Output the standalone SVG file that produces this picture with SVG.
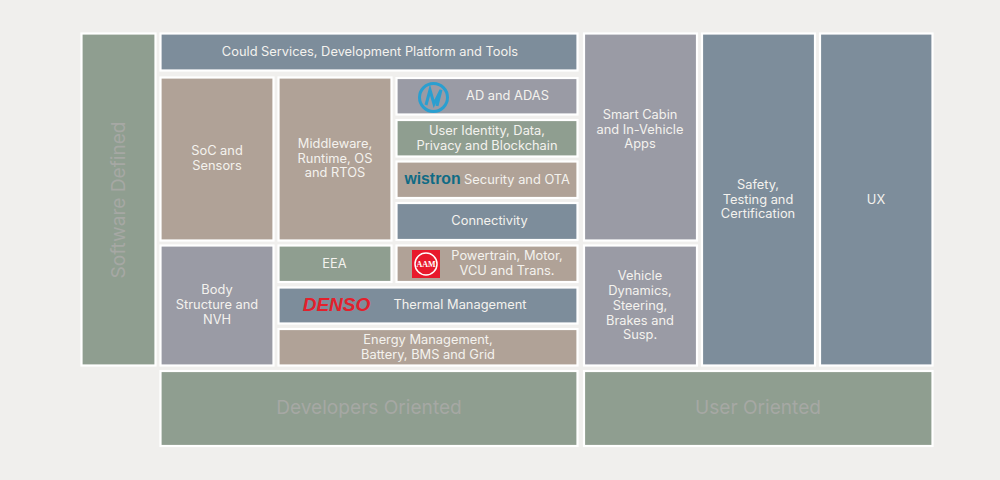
<svg xmlns="http://www.w3.org/2000/svg" width="1000" height="480" viewBox="0 0 1000 480">
<style>
.b{stroke:#fff;stroke-width:2.200}
.g{fill:#8f9e90}.s{fill:#7d8d9b}.t{fill:#b0a297}.p{fill:#9a9ba5}
text{font-family:"Inter","Open Sans","Liberation Sans",sans-serif;font-size:12.850px;fill:#f4f2ee;text-anchor:middle}
.big{font-size:19.100px;fill:#a6a8a4}
</style>
<rect width="1000" height="480" fill="#f0efed"/>
<g id="connectors"/>
<g id="software-defined"><rect class="b g" x="81.500" y="33.500" width="74" height="332"/><text class="big" transform="translate(118.500 200) rotate(-90)" y="6.500">Software Defined</text></g>
<g id="cloud"><rect class="b s" x="160.500" y="33.500" width="417" height="37"/><text x="370" y="56">Could Services, Development Platform and Tools</text></g>
<g id="soc"><rect class="b t" x="160.500" y="77.500" width="113" height="163"/><text x="217" y="155">SoC and</text><text x="217" y="169.500">Sensors</text></g>
<g id="middleware"><rect class="b t" x="278.500" y="77.500" width="113" height="163"/><text x="335" y="148">Middleware,</text><text x="335" y="162.500">Runtime, OS</text><text x="335" y="177">and RTOS</text></g>
<g id="adas"><rect class="b p" x="396.500" y="78" width="181" height="36.500"/><text x="507.500" y="100">AD and ADAS</text>
<circle cx="433.500" cy="97.500" r="14" fill="none" stroke="#2a9fd0" stroke-width="3"/><path d="M426 105L430 90L434 104L441 90L437 106" fill="none" stroke="#2a9fd0" stroke-width="3"/></g>
<g id="identity"><rect class="b g" x="396.500" y="120" width="181" height="36.500"/><text x="487" y="134.500">User Identity, Data,</text><text x="487" y="150">Privacy and Blockchain</text></g>
<g id="security"><rect class="b t" x="396.500" y="161.500" width="181" height="36.500"/><text x="517" y="184">Security and OTA</text><text x="432.500" y="184" style="font-family:'Liberation Sans',sans-serif;font-size:15.800px;font-weight:700;fill:#0f6b85">wistron</text></g>
<g id="connectivity"><rect class="b s" x="396.500" y="203" width="181" height="37"/><text x="489.500" y="225">Connectivity</text></g>
<g id="body"><rect class="b p" x="160.500" y="245.500" width="113" height="120"/><text x="217" y="294">Body</text><text x="217" y="309">Structure and</text><text x="217" y="324">NVH</text></g>
<g id="eea"><rect class="b g" x="278.500" y="245.500" width="113" height="36.500"/><text x="334.500" y="267.500">EEA</text></g>
<g id="powertrain"><rect class="b t" x="396.500" y="245.500" width="181" height="36.500"/><text x="507" y="260">Powertrain, Motor,</text><text x="507" y="275">VCU and Trans.</text>
<rect x="412" y="250" width="28" height="28" fill="#e8192c"/><circle cx="426" cy="264" r="11" fill="none" stroke="#fff" stroke-width="1.500"/><text x="426" y="267" style="font-family:'Liberation Serif',serif;font-size:8px;font-weight:700;fill:#fff">AAM</text></g>
<g id="thermal"><rect class="b s" x="278.500" y="287.500" width="299" height="36"/><text x="460" y="309">Thermal Management</text><text x="336.500" y="311" style="font-family:'Liberation Sans',sans-serif;font-size:19px;font-weight:700;font-style:italic;fill:#e3202c">DENSO</text></g>
<g id="energy"><rect class="b t" x="278.500" y="329" width="299" height="36.500"/><text x="428" y="343.500">Energy Management,</text><text x="428" y="358.500">Battery, BMS and Grid</text></g>
<g id="cabin"><rect class="b p" x="584" y="33.500" width="113" height="207"/><text x="640" y="119">Smart Cabin</text><text x="640" y="133.500">and In-Vehicle</text><text x="640" y="148">Apps</text></g>
<g id="dynamics"><rect class="b p" x="584" y="245.500" width="113" height="120"/><text x="640" y="280">Vehicle</text><text x="640" y="295">Dynamics,</text><text x="640" y="309.500">Steering,</text><text x="640" y="324.500">Brakes and</text><text x="640" y="339">Susp.</text></g>
<g id="safety"><rect class="b s" x="702" y="33.500" width="113" height="332"/><text x="758" y="189">Safety,</text><text x="758" y="203.500">Testing and</text><text x="758" y="218">Certification</text></g>
<g id="ux"><rect class="b s" x="820" y="33.500" width="112.500" height="332"/><text x="876" y="203.500">UX</text></g>
<g id="developers"><rect class="b g" x="160.500" y="371" width="417" height="75"/><text class="big" x="369" y="414">Developers Oriented</text></g>
<g id="user"><rect class="b g" x="584" y="371" width="348.500" height="75"/><text class="big" x="758" y="414">User Oriented</text></g>
</svg>
